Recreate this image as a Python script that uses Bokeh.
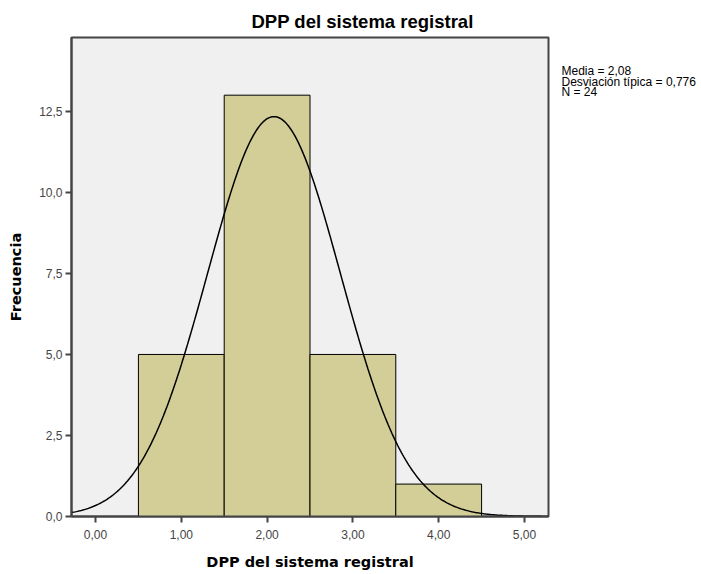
import numpy as np
from bokeh.plotting import figure
from bokeh.layouts import row
from bokeh.models import Range1d, FixedTicker, ColumnDataSource
from bokeh.core.properties import value
from bokeh.embed import file_html
from bokeh.resources import INLINE

# Data
bin_left = [0.5, 1.5, 2.5, 3.5]
bin_right = [1.5, 2.5, 3.5, 4.5]
counts = [5, 13, 5, 1]
mean = 2.08
sd = 0.776
n = 24
bin_width = 1.0
x_ticks = [0, 1, 2, 3, 4, 5]
x_tick_labels = ["0,00", "1,00", "2,00", "3,00", "4,00", "5,00"]
y_ticks = [0, 2.5, 5, 7.5, 10, 12.5]
y_tick_labels = ["0,0", "2,5", "5,0", "7,5", "10,0", "12,5"]
stats = ["Media = 2,08", "Desviación típica = 0,776", "N = 24"]

FONT = "Liberation Sans"
LABEL_FONT = "DejaVu Sans"
AX = "#444444"

p = figure(width=553, height=572, output_backend="svg", toolbar_location=None,
           x_range=Range1d(-0.28, 5.28), y_range=Range1d(0, 14.78),
           min_border_left=71, min_border_right=5, min_border_top=37, min_border_bottom=53)
p.title.text = "DPP del sistema registral"
p.title.align = "left"
p.title.offset = 180
p.title.text_font = FONT
p.title.text_font_size = "18.5px"
p.title.text_font_style = "bold"
p.title.text_color = "black"
p.title.standoff = 12
p.background_fill_color = "#f0f0f0"
p.border_fill_color = "white"
p.outline_line_color = AX
p.outline_line_width = 2
p.grid.visible = False

src = ColumnDataSource(dict(left=bin_left, right=bin_right, top=counts))
p.quad(left="left", right="right", bottom=0, top="top", source=src,
       fill_color="#d3ce97", line_color="black", line_width=1)

xs = np.linspace(-0.28, 5.28, 400)
ys = n * bin_width / (sd * np.sqrt(2 * np.pi)) * np.exp(-0.5 * ((xs - mean) / sd) ** 2)
p.line(xs, ys, line_color="black", line_width=1.5)

for ax in (p.xaxis[0], p.yaxis[0]):
    ax.axis_line_color = AX
    ax.axis_line_width = 2
    ax.major_tick_line_color = AX
    ax.major_tick_line_width = 2
    ax.major_tick_out = 6
    ax.major_tick_in = 0
    ax.minor_tick_line_color = None
    ax.major_label_text_font = FONT
    ax.major_label_text_font_size = "12px"
    ax.major_label_text_color = "#444444"
    ax.axis_label_text_font = LABEL_FONT
    ax.axis_label_text_font_style = "bold"
    ax.axis_label_text_font_size = "14.5px"
    ax.axis_label_text_color = "black"

p.xaxis.ticker = FixedTicker(ticks=x_ticks)
p.xaxis.major_label_overrides = {t: l for t, l in zip(x_ticks, x_tick_labels)}
p.yaxis.ticker = FixedTicker(ticks=y_ticks)
p.yaxis.major_label_overrides = {t: l for t, l in zip(y_ticks, y_tick_labels)}
p.xaxis.axis_label = "DPP del sistema registral"
p.yaxis.axis_label = "Frecuencia"
p.xaxis.major_label_standoff = 7
p.xaxis.axis_label_standoff = 12
p.yaxis.major_label_standoff = 3
p.yaxis.axis_label_standoff = 12

# statistics panel to the right (frame aligned with the main plot's frame;
# ranges expressed in page pixels)
p2 = figure(width=147, height=572, output_backend="svg", toolbar_location=None,
            x_range=Range1d(0, 147), y_range=Range1d(519, 37),
            x_axis_type=None, y_axis_type=None,
            min_border_left=0, min_border_right=0, min_border_top=37, min_border_bottom=53)
p2.outline_line_color = None
p2.grid.visible = False
p2.background_fill_color = "white"
p2.border_fill_color = "white"
stat_src = ColumnDataSource(dict(x=[8] * len(stats),
                                 y=[71 + 10.5 * i for i in range(len(stats))],
                                 text=stats))
p2.text(x="x", y="y", text="text", source=stat_src, text_font=value(FONT),
        text_font_size="12px", text_baseline="middle", text_align="left",
        text_color="black")

layout = row(p, p2, spacing=0)
open("out.html", "w").write(file_html(layout, INLINE))
